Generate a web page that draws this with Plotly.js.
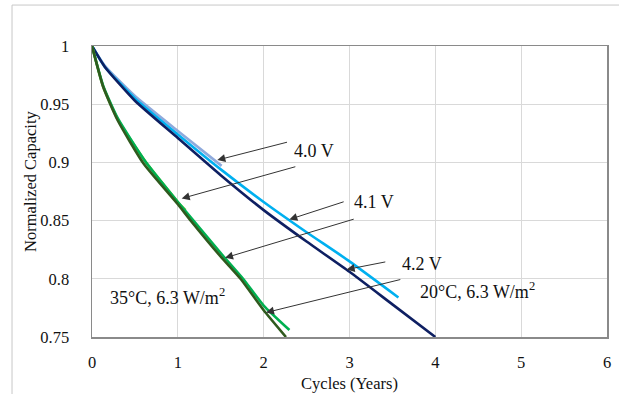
<!DOCTYPE html>
<html>
<head>
<meta charset="utf-8">
<script src="https://cdn.plot.ly/plotly-3.0.1.min.js"></script>
<style>html,body{margin:0;padding:0;background:#fff;} #chart{width:619px;height:394px;}</style>
</head>
<body>
<div id="chart"></div>
<script>
// 20°C, 6.3 W/m2
const x40V20 = [0, 0.15, 0.5, 1.0, 1.51];
const y40V20 = [1, 0.983, 0.957, 0.927, 0.897];
const x41V20 = [0, 0.15, 0.5, 1.0, 1.5, 2.0, 2.5, 3.0, 3.57];
const y41V20 = [1, 0.982, 0.955, 0.924, 0.894, 0.866, 0.840, 0.815, 0.784];
const x42V20 = [0, 0.15, 0.5, 1.0, 1.5, 2.0, 2.5, 3.0, 3.5, 4.0];
const y42V20 = [1, 0.982, 0.953, 0.921, 0.889, 0.859, 0.832, 0.806, 0.778, 0.75];
// 35°C, 6.3 W/m2
const x40V35 = [0, 0.13, 0.3, 0.62, 1.0, 1.09];
const y40V35 = [1, 0.965, 0.937, 0.901, 0.866, 0.859];
const x41V35 = [0, 0.13, 0.3, 0.62, 1.0, 1.17, 1.5, 1.76, 2.0, 2.3];
const y41V35 = [1, 0.966, 0.938, 0.901, 0.866, 0.851, 0.822, 0.800, 0.777, 0.756];
const x42V35 = [0, 0.13, 0.3, 0.6, 1.0, 1.15, 1.5, 1.73, 2.0, 2.26];
const y42V35 = [1, 0.965, 0.936, 0.899, 0.864, 0.850, 0.819, 0.800, 0.773, 0.75];

const xTicks = [0, 1, 2, 3, 4, 5, 6];
const yTicks = [0.75, 0.8, 0.85, 0.9, 0.95, 1];
const yTickText = ['0.75', '0.8', '0.85', '0.9', '0.95', '1'];

function line(x, y, color, name) {
  return {x: x, y: y, type: 'scatter', mode: 'lines', name: name,
          line: {color: color, width: 2.6, shape: 'spline', smoothing: 0.5}, hoverinfo: 'skip'};
}

const traces = [
  line(x40V20, y40V20, '#8FAADC', '4.0 V 20°C'),
  line(x41V20, y41V20, '#00B0F0', '4.1 V 20°C'),
  line(x42V20, y42V20, '#0E1F62', '4.2 V 20°C'),
  line(x40V35, y40V35, '#74C83A', '4.0 V 35°C'),
  line(x41V35, y41V35, '#00B050', '4.1 V 35°C'),
  line(x42V35, y42V35, '#2F5A1E', '4.2 V 35°C')
];

const serif = 'Liberation Serif, Times New Roman, serif';
function arrow(x, y, ax, ay) {
  return {x: x, y: y, ax: ax, ay: ay, xref: 'x', yref: 'y', axref: 'x', ayref: 'y',
          text: ' ', showarrow: true, arrowhead: 2, arrowsize: 1.6, arrowwidth: 1, arrowcolor: '#333'};
}
function label(x, y, t) {
  return {x: x, y: y, xref: 'x', yref: 'y', text: t, showarrow: false,
          font: {family: serif, size: 18, color: '#111'}};
}

const layout = {
  width: 619, height: 394,
  margin: {l: 92, r: 12, t: 46, b: 56.5},
  paper_bgcolor: '#fff', plot_bgcolor: '#fff',
  showlegend: false,
  font: {family: serif, color: '#111'},
  xaxis: {
    range: [0, 6], tickvals: xTicks, ticktext: xTicks.map(String),
    showgrid: true, gridcolor: '#D9D9D9', gridwidth: 1,
    showline: true, linecolor: '#8A8A8A', linewidth: 1.5, mirror: true,
    zeroline: false, ticks: '', ticklabelstandoff: 10,
    tickfont: {family: serif, size: 16.5, color: '#111'},
    title: {text: 'Cycles (Years)', font: {family: serif, size: 16.5, color: '#111'}, standoff: 6}
  },
  yaxis: {
    range: [0.75, 1], tickvals: yTicks, ticktext: yTickText,
    showgrid: true, gridcolor: '#D9D9D9', gridwidth: 1,
    showline: true, linecolor: '#8A8A8A', linewidth: 1.5, mirror: true,
    zeroline: false, ticks: '', ticklabelstandoff: 18,
    tickfont: {family: serif, size: 16.5, color: '#111'}
  },
  shapes: [
    {type: 'line', xref: 'paper', yref: 'paper', x0: -0.1553, x1: -0.1553, y0: 1.1407, y1: -0.2,
     line: {color: '#C8C8C8', width: 1}},
    {type: 'line', xref: 'paper', yref: 'paper', x0: -0.1553, x1: 1.03, y0: 1.1407, y1: 1.1407,
     line: {color: '#C8C8C8', width: 1}}
  ],
  annotations: [
    {x: -0.1184, y: 0.533, xref: 'paper', yref: 'paper', text: 'Normalized Capacity',
     textangle: -90, showarrow: false, xanchor: 'center', yanchor: 'middle',
     font: {family: serif, size: 16.5, color: '#111'}},
    arrow(1.46, 0.902, 2.307, 0.918),
    arrow(1.045, 0.869, 2.404, 0.897),
    arrow(2.299, 0.851, 2.967, 0.867),
    arrow(1.55, 0.818, 3.084, 0.852),
    arrow(2.967, 0.808, 3.452, 0.815),
    arrow(2.027, 0.771, 3.627, 0.800),
    label(2.587, 0.910, '4.0 V'),
    label(3.286, 0.866, '4.1 V'),
    label(3.845, 0.813, '4.2 V'),
    label(4.497, 0.790, '20°C, 6.3 W/m<sup>2</sup>'),
    label(0.885, 0.785, '35°C, 6.3 W/m<sup>2</sup>')
  ]
};

Plotly.newPlot('chart', traces, layout, {displayModeBar: false, staticPlot: true});
</script>
</body>
</html>
